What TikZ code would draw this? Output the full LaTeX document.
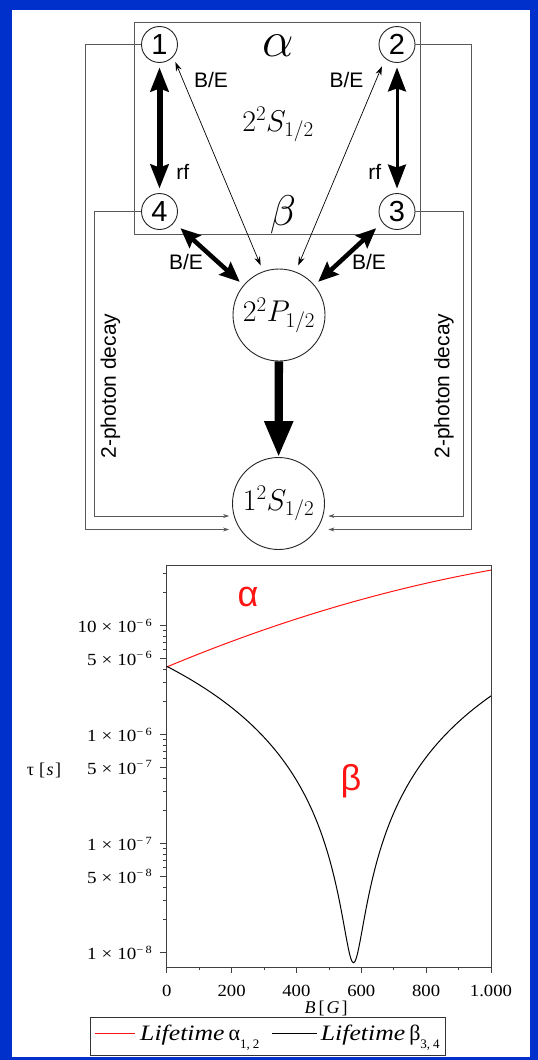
\RequirePackage{fix-cm}
\documentclass[tikz,border=0pt]{standalone}
\usepackage{fontspec}
\usepackage{graphicx}
\setsansfont{Liberation Sans}
\newfontfamily\tms{Liberation Serif}
\usetikzlibrary{arrows.meta,calc}
\definecolor{bluebg}{RGB}{0,48,204}
\definecolor{plotred}{RGB}{255,20,20}
\newcommand\ytl[2]{\scalebox{1.12}[1]{#1\hspace{4.5pt}×\hspace{4.5pt}10\raisebox{6.5pt}{\fontsize{11}{11}\selectfont −\hspace{2pt}#2}}}
\begin{document}
\begin{tikzpicture}[x=1pt,y=-1pt,
  state/.style={circle,draw=black!85,fill=white,line width=0.9pt,minimum size=36pt,inner sep=0pt,font=\sffamily\fontsize{29}{29}\selectfont},
  level/.style={circle,draw=black!85,fill=white,line width=0.9pt,minimum size=92pt,inner sep=0pt,font=\fontsize{30}{30}\selectfont},
  lbl/.style={inner sep=0pt,font=\sffamily\fontsize{21}{21}\selectfont},
  thinarr/.style={line width=0.7pt,{Stealth[length=9pt,width=6pt]}-{Stealth[length=9pt,width=6pt]}},
  thickarr/.style={line width=4.5pt,{Stealth[length=20pt,width=17pt,inset=3pt]}-{Stealth[length=20pt,width=17pt,inset=3pt]}},
  rfarr/.style={line width=#1,{Stealth[length=24pt,width=18pt,inset=3pt]}-{Stealth[length=24pt,width=18pt,inset=3pt]}},
  decay/.style={line width=0.8pt,draw=black!65,-{Stealth[length=6pt,width=4pt]}},
  bigarr/.style={line width=8.3pt,-{Triangle[length=36pt,width=27pt]}},
  axisline/.style={line width=0.9pt,draw=black!75},
  ticklbl/.style={inner sep=0pt,font=\tms\fontsize{17}{17}\selectfont},
  curve/.style={line width=1pt},
]
% background
\fill[bluebg] (0,0) rectangle (538,1060);
\fill[white] (12,10) rectangle (530,1057);
\useasboundingbox (0,0) rectangle (538,1060);

% ---------------- level diagram ----------------
\draw[line width=0.8pt,draw=black!65] (134.5,22) rectangle (420,234);

\node[state] (n1) at (159.5,44.5) {1};
\node[state] (n2) at (397,44.5) {2};
\node[state] (n3) at (397,211.5) {3};
\node[state] (n4) at (159.5,211.5) {4};
\node[level] (P) at (279,315) {$2^2P_{1/2}$};
\node[level] (S) at (278.5,503.5) {$1^2S_{1/2}$};

\node[inner sep=0pt,font=\fontsize{50}{50}\selectfont] (alph) at (278,46) {$\alpha$};
\node[inner sep=0pt,font=\fontsize{43}{43}\selectfont] (bet) at (283,214.5) {$\beta$};
\node[inner sep=0pt,font=\fontsize{30}{30}\selectfont] (s2) at (278,124.4) {$2^2S_{1/2}$};

\node[lbl] (be1) at (211,80) {B/E};
\node[lbl] (be2) at (346.5,80) {B/E};
\node[lbl] (be3) at (186,262) {B/E};
\node[lbl] (be4) at (369,262) {B/E};
\node[lbl] (rf1) at (182.7,172.3) {rf};
\node[lbl] (rf2) at (374.9,172.3) {rf};
\node[lbl,rotate=90] (tpl) at (110.5,386) {2-photon decay};
\node[lbl,rotate=90] (tpr) at (444,386) {2-photon decay};

% rf transitions
\draw[rfarr=6pt,shorten <=4.5pt,shorten >=4.5pt] (n1) -- (n4);
\draw[rfarr=3pt,shorten <=4.5pt,shorten >=4.5pt] (n2) -- (n3);
% thin B/E
\draw[thinarr,shorten <=5.7pt,shorten >=6.4pt] (n1.-42) -- (P.110);
\draw[thinarr,shorten <=8.3pt,shorten >=6.7pt] (n2.-130) -- (P.69);
% thick B/E
\draw[thickarr,shorten <=8.3pt,shorten >=4.9pt] (n4.-37) -- (P.140);
\draw[thickarr,shorten <=8.3pt,shorten >=4.9pt] (n3.-143) -- (P.40);
% P -> S
\draw[bigarr] (P) -- (S);
% two-photon decays
\draw[decay] (n1.west) -- ++(-55.2,0) |- ($(S.west)+(-3,26)$);
\draw[decay] (n4.west) -- ++(-47.1,0) |- ($(S.west)+(-3,12.5)$);
\draw[decay] (n3.east) -- ++(48.2,0) |- ($(S.east)+(3.5,12.5)$);
\draw[decay] (n2.east) -- ++(56,0) |- ($(S.east)+(3.5,26)$);

% ---------------- plot ----------------
\draw[axisline] (166.7,565) rectangle (491,967.3);
% y ticks (log)
\foreach \e in {0,1,2,3}{
  \foreach \m in {1,...,9}{
    \pgfmathsetmacro\yy{952.5-109*(\e+0.434294*ln(\m))}
    \pgfmathsetmacro\tlen{(\m==1||\m==5)?7:4}
    \ifdim\yy pt>566pt \draw[axisline,line width=0.7pt] (166.7,\yy) -- ++(-\tlen,0); \fi
  }
}
% x ticks
\foreach \b in {0,200,...,1000}{
  \draw[axisline,line width=0.7pt] ({166.7+0.3243*\b},967.3) -- ++(0,6);
}
\foreach \b in {100,300,...,900}{
  \draw[axisline,line width=0.7pt] ({166.7+0.3243*\b},967.3) -- ++(0,3);
}
\node[ticklbl,anchor=base] (xl0) at (166.7,996) {\scalebox{1.1}[1]{0}};
\node[ticklbl,anchor=base] (xl2) at (231.6,996) {\scalebox{1.1}[1]{200}};
\node[ticklbl,anchor=base] (xl4) at (296.4,996) {\scalebox{1.1}[1]{400}};
\node[ticklbl,anchor=base] (xl6) at (361.3,996) {\scalebox{1.1}[1]{600}};
\node[ticklbl,anchor=base] (xl8) at (426.1,996) {\scalebox{1.1}[1]{800}};
\node[ticklbl,anchor=base] (xl10) at (491,996) {\scalebox{1.1}[1]{1.000}};

\node[ticklbl,anchor=base east] (yl1) at (152,632.5) {\ytl{10}{6}};
\node[ticklbl,anchor=base east] (yl2) at (152,665.3) {\ytl{5}{6}};
\node[ticklbl,anchor=base east] (yl3) at (152,741.5) {\ytl{1}{6}};
\node[ticklbl,anchor=base east] (yl4) at (152,774.3) {\ytl{5}{7}};
\node[ticklbl,anchor=base east] (yl5) at (152,850.5) {\ytl{1}{7}};
\node[ticklbl,anchor=base east] (yl6) at (152,883.3) {\ytl{5}{8}};
\node[ticklbl,anchor=base east] (yl7) at (152,959.5) {\ytl{1}{8}};

\node[ticklbl,font=\tms\fontsize{18}{18}\selectfont] (ylab) at (44,770) {τ\hspace{5pt}[\hspace{1.5pt}\textit{s}\hspace{1.5pt}]};
\node[ticklbl,font=\tms\fontsize{18}{18}\selectfont,anchor=base] (xlab) at (326,1013) {\textit{B}\hspace{3pt}[\hspace{2pt}\textit{G}\hspace{2pt}]};

% curves
\draw[curve,plotred] plot[domain=0:1000,samples=101,smooth] ({166.7+0.3243*\x},{667-96.9*(1.4*\x/1000-0.4*(\x/1000)*(\x/1000))});
\draw[curve,black] plot[domain=0:1000,samples=251] ({166.7+0.3243*\x},{954.3-111.6*0.434294*ln((((\x-576)/100)*((\x-576)/100)+0.0733)/0.0873)});

\node[text=plotred,inner sep=0pt,font=\sffamily\fontsize{36}{36}\selectfont] (pa) at (248,596.5) {α};
\node[text=plotred,inner sep=0pt,font=\sffamily\fontsize{36}{36}\selectfont] (pb) at (351,781) {β};

% legend
\draw[line width=0.9pt,draw=black!80] (90,1017) rectangle (445.7,1055);
\draw[plotred,line width=1.1pt] (95,1033.3) -- (135,1033.3);
\draw[black,line width=1pt] (271.7,1033.3) -- (316.7,1033.3);
\node[anchor=base west,inner sep=0pt,font=\tms\fontsize{22}{22}\selectfont] (lg1) at (140,1040) {\scalebox{1.17}[1]{\itshape Lifetime}\hspace{4pt}α\raisebox{-8pt}{\fontsize{13}{13}\selectfont 1,\hspace{3pt}2}};
\node[anchor=base west,inner sep=0pt,font=\tms\fontsize{22}{22}\selectfont] (lg2) at (320.7,1040) {\scalebox{1.17}[1]{\itshape Lifetime}\hspace{4pt}β\raisebox{-8pt}{\fontsize{13}{13}\selectfont 3,\hspace{3pt}4}};
\end{tikzpicture}
\end{document}
